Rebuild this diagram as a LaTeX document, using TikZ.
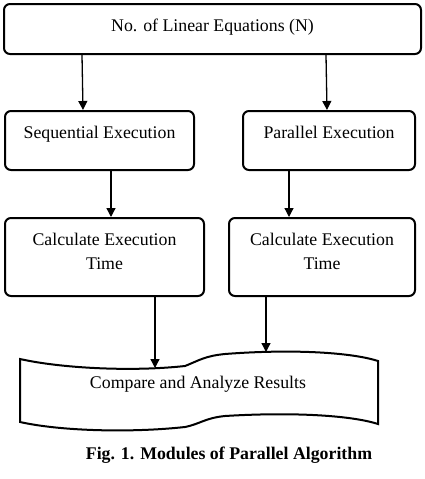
\documentclass[tikz,border=0pt]{standalone}
\usepackage{fontspec}
\setmainfont{Liberation Serif}
\usetikzlibrary{arrows.meta,calc}
\begin{document}
\begin{tikzpicture}[x=1pt,y=-1pt,
  box/.style={draw,line width=2pt,rounded corners=6pt,inner sep=0pt,align=center,
    font=\fontsize{17.8}{24}\selectfont},
  arr/.style={line width=1.3pt,-{Triangle[length=9pt,width=9pt]}},
  ln/.style={line width=1.3pt}]
\useasboundingbox (0,0) rectangle (425,479);
\node[box,minimum width=417pt,text height=27pt,text depth=23pt] (top) at (212.5,29) {No. of Linear Equations (N)};
\node[box,minimum width=189pt,text height=27pt,text depth=32pt,anchor=north west] (seq) at (4,110) {Sequential Execution};
\node[box,minimum width=172pt,text height=27pt,text depth=32pt,anchor=north west] (par) at (242,110) {Parallel Execution};
\node[box,minimum width=199pt,text height=51pt,text depth=27pt,anchor=north west] (calcL) at (4,217) {Calculate Execution\\Time};
\node[box,minimum width=186pt,text height=51pt,text depth=27pt,anchor=north west] (calcR) at (228,217) {Calculate Execution\\Time};
% tape shape
\draw[line width=2pt]
  (20,359) .. controls (60,368) and (130,372) .. (185,366)
  .. controls (200,360) and (205,356) .. (225,354)
  .. controls (290,349) and (350,352) .. (378,361)
  -- (378,424)
  .. controls (350,415) and (290,412) .. (225,416)
  .. controls (205,418) and (200,424) .. (185,427)
  .. controls (130,433) and (60,431) .. (20,422) -- cycle;
\node[font=\fontsize{17.8}{20}\selectfont] (cmp) at (198,384) {Compare and Analyze Results};
\coordinate (cmpL) at (155,368);
\coordinate (cmpR) at (266,352);
\node[font=\bfseries\fontsize{17.8}{20}\selectfont] (cap) at (229,455) {Fig. 1. Modules of Parallel Algorithm};
% arrows
\draw[arr] ([xshift=79pt]top.south west) -- ([xshift=79pt]seq.north west);
\draw[arr] ([xshift=323pt]top.south west) -- ([xshift=85pt]par.north west);
\draw[arr] ([xshift=107pt]seq.south west) -- ([xshift=107pt]calcL.north west);
\draw[arr] ([xshift=47pt]par.south west) -- ([xshift=61pt]calcR.north west);
\draw[arr] ([xshift=151pt]calcL.south west) -- (cmpL);
\draw[arr] ([xshift=38pt]calcR.south west) -- (cmpR);
\end{tikzpicture}
\end{document}
